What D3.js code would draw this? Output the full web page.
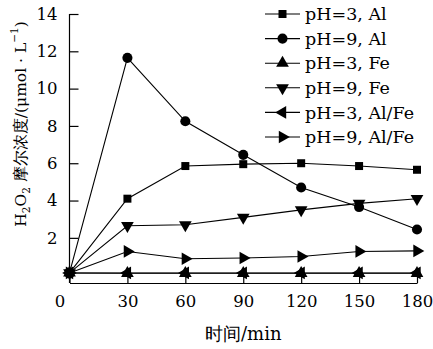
<!DOCTYPE html>
<html>
<head>
<meta charset="utf-8">
<script src="https://cdn.jsdelivr.net/npm/d3@7"></script>
<style>
  body { margin: 0; background: #fff; }
  text { font-family: "DejaVu Serif", serif; fill: #000; }
</style>
</head>
<body>
<div id="chart"></div>
<script>
// data
const times = [0, 30, 60, 90, 120, 150, 180];
const seriesNames = ['pH=3, Al', 'pH=9, Al', 'pH=3, Fe', 'pH=9, Fe', 'pH=3, Al/Fe', 'pH=9, Al/Fe'];
const ph3Al   = [0.12, 4.1, 5.85, 5.95, 6.0, 5.85, 5.65];
const ph9Al   = [0.12, 11.65, 8.25, 6.45, 4.7, 3.65, 2.45];
const ph3Fe   = [0.12, 0.1, 0.1, 0.1, 0.1, 0.1, 0.1];
const ph9Fe   = [0.12, 2.65, 2.7, 3.1, 3.5, 3.85, 4.1];
const ph3AlFe = [0.12, 0.12, 0.12, 0.12, 0.12, 0.12, 0.12];
const ph9AlFe = [0.12, 1.27, 0.88, 0.92, 1.0, 1.27, 1.3];
const yTicks = [2, 4, 6, 8, 10, 12, 14];
const xTicks = [0, 30, 60, 90, 120, 150, 180];

const width = 433, height = 349;
const margin = {left: 69.5, right: 16, top: 14, bottom: 66};
const serif = '"DejaVu Serif", serif';

const svg = d3.select('#chart').append('svg')
    .attr('width', width)
    .attr('height', height);

const x = d3.scaleLinear().domain([0, 180]).range([margin.left, width - margin.right]);
const y = d3.scaleLinear().domain([-0.42, 14]).range([height - margin.bottom, margin.top]);

// axes, ticks point inwards
const yAxis = d3.axisLeft(y).tickValues(yTicks).tickSize(-9).tickPadding(12).tickSizeOuter(0);
const xAxis = d3.axisBottom(x).tickValues(xTicks).tickSize(-9).tickPadding(12).tickSizeOuter(0);

const gy = svg.append('g').attr('transform', `translate(${margin.left},0)`).call(yAxis);
const gx = svg.append('g').attr('transform', `translate(0,${height - margin.bottom})`).call(xAxis);
[gx, gy].forEach(g => {
  g.attr('font-family', serif).attr('font-size', 16.5);
  g.select('.domain').attr('stroke', '#000').attr('stroke-width', 1.2);
  g.selectAll('.tick line').attr('stroke', '#000').attr('stroke-width', 1.2);
});
gx.selectAll('.tick text').attr('dy', '0.71em');
gx.selectAll('.tick').filter(d => d === 0).select('text').attr('dx', -10);
// y domain line stops at the top tick
gy.select('.domain').attr('d', `M0,${y(14)}V${height - margin.bottom}`);

// markers
const sym = {
  square: d3.symbol().type(d3.symbolSquare).size(64),
  circle: d3.symbol().type(d3.symbolCircle).size(80),
  tri: d3.symbol().type(d3.symbolTriangle).size(70)
};
const series = [
  {name: seriesNames[0], values: ph3Al, shape: 'square', rot: 0},
  {name: seriesNames[1], values: ph9Al, shape: 'circle', rot: 0},
  {name: seriesNames[2], values: ph3Fe, shape: 'tri', rot: 0},
  {name: seriesNames[3], values: ph9Fe, shape: 'tri', rot: 180},
  {name: seriesNames[4], values: ph3AlFe, shape: 'tri', rot: -90},
  {name: seriesNames[5], values: ph9AlFe, shape: 'tri', rot: 90}
];

const line = d3.line().x((d, i) => x(times[i])).y(d => y(d));

// later series first so the squares sit on top at t=0
series.slice().reverse().forEach(s => {
  const g = svg.append('g');
  g.append('path')
    .attr('d', line(s.values))
    .attr('fill', 'none')
    .attr('stroke', '#000')
    .attr('stroke-width', 1.1);
  g.selectAll('path.m')
    .data(s.values)
    .enter().append('path')
    .attr('class', 'm')
    .attr('d', sym[s.shape])
    .attr('transform', (d, i) => `translate(${x(times[i])},${y(d)}) rotate(${s.rot})`)
    .attr('fill', '#000');
});

// legend
const legendG = svg.append('g').attr('transform', 'translate(265,14)');
const rows = legendG.selectAll('g')
  .data(series)
  .enter().append('g')
  .attr('transform', (d, i) => `translate(0,${i * 24.6})`);
rows.append('line')
  .attr('x1', 0).attr('x2', 35)
  .attr('stroke', '#000').attr('stroke-width', 1.1);
rows.append('path')
  .attr('d', d => sym[d.shape]())
  .attr('transform', d => `translate(17.5,0) rotate(${d.rot})`)
  .attr('fill', '#000');
rows.append('text')
  .attr('x', 40)
  .attr('dy', '0.35em')
  .style('font-size', '17.5px')
  .text(d => d.name);

// axis titles
svg.append('text')
  .attr('x', (x(0) + x(180)) / 2)
  .attr('y', 335)
  .attr('text-anchor', 'middle')
  .attr('dominant-baseline', 'middle')
  .style('font-size', '18px')
  .text('时间/min');

const yl = svg.append('text')
  .attr('transform', 'translate(22,124) rotate(-90)')
  .attr('text-anchor', 'middle')
  .attr('dominant-baseline', 'middle')
  .style('font-size', '15.5px');
yl.append('tspan').text('H');
yl.append('tspan').attr('dy', 5).style('font-size', '10.5px').text('2');
yl.append('tspan').attr('dy', -5).text('O');
yl.append('tspan').attr('dy', 5).style('font-size', '10.5px').text('2');
yl.append('tspan').attr('dy', -5).text(' 摩尔浓度/(μmol · L');
yl.append('tspan').attr('dy', -7).style('font-size', '10.5px').text('−1');
yl.append('tspan').attr('dy', 7).text(')');
</script>
</body>
</html>
